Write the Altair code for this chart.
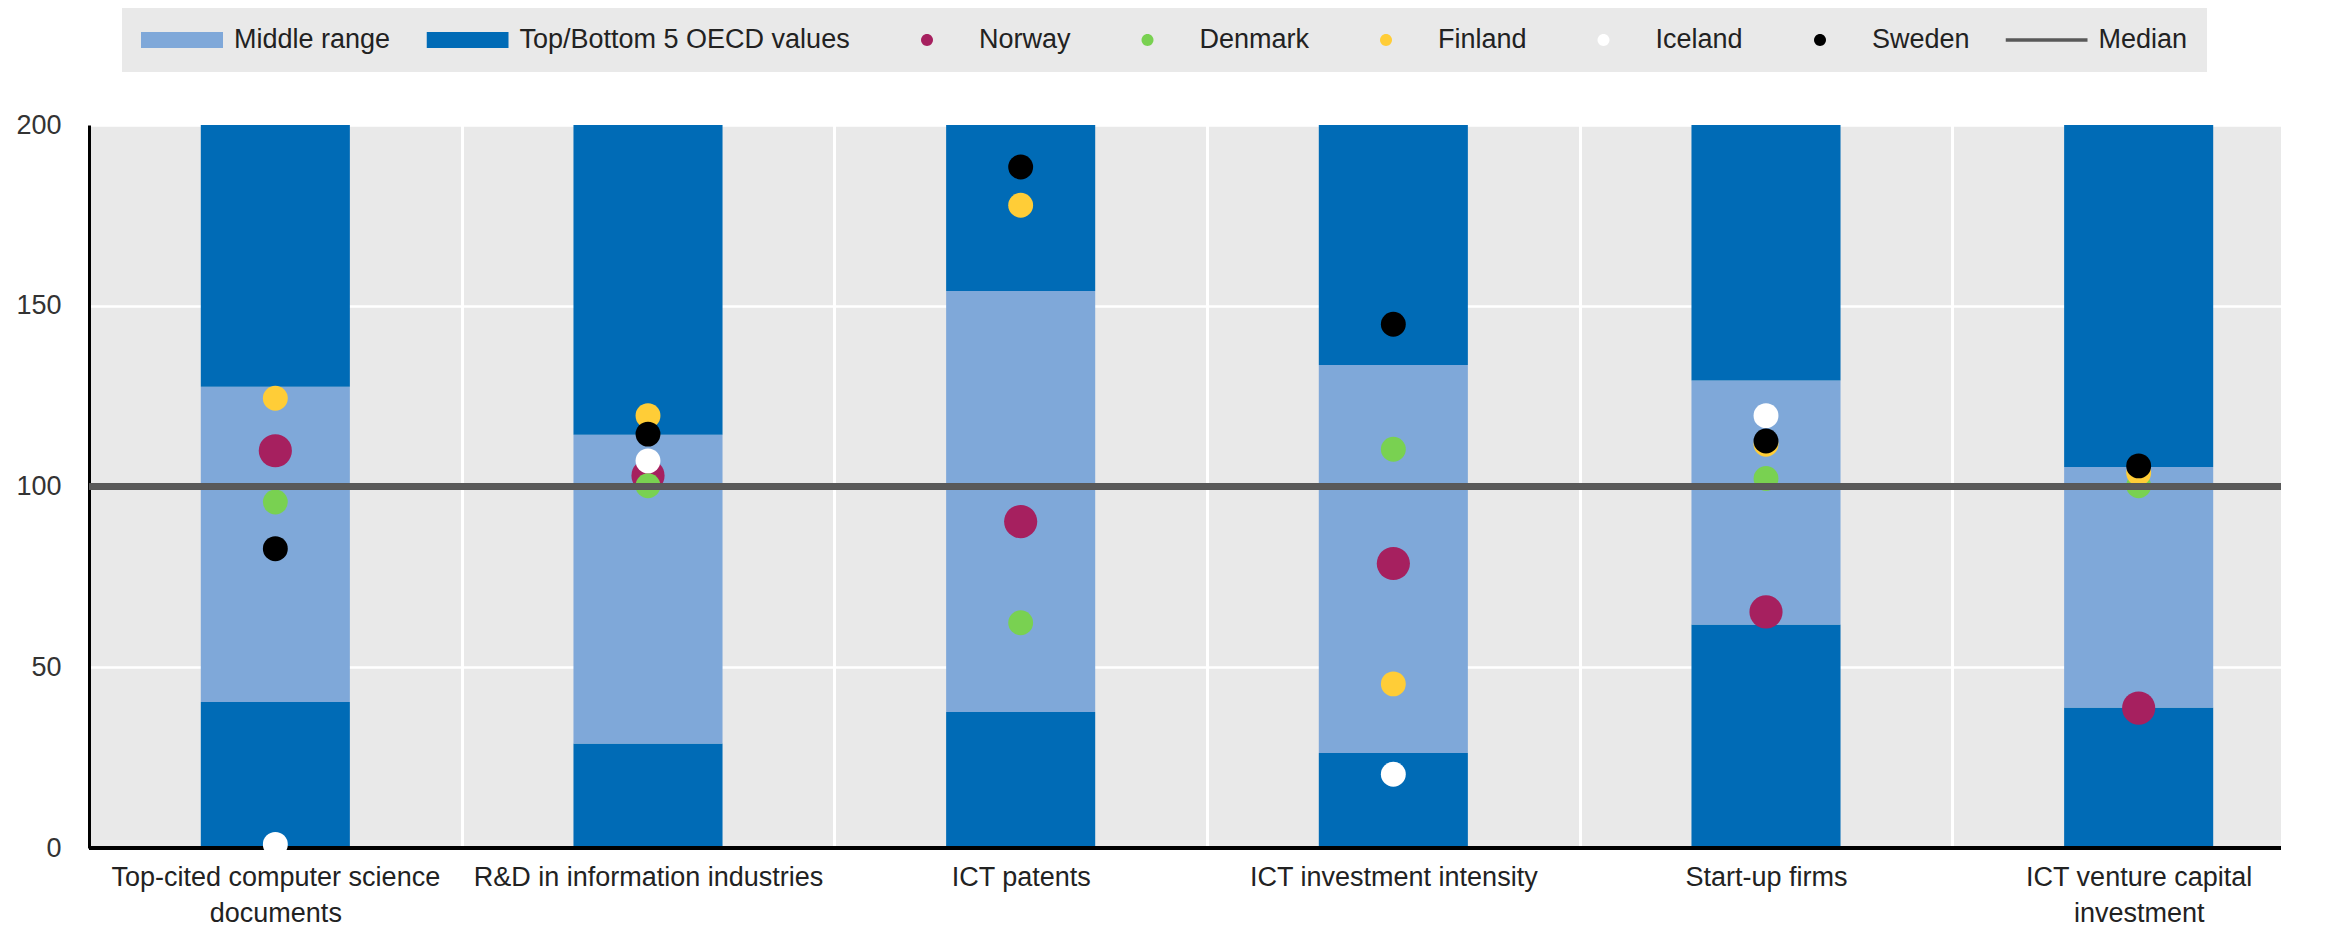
import altair as alt
import pandas as pd

# ---------------- data ----------------
CATEGORIES = [
    "Top-cited computer science documents",
    "R&D in information industries",
    "ICT patents",
    "ICT investment intensity",
    "Start-up firms",
    "ICT venture capital investment",
]
LABEL_LINES = {
    "Top-cited computer science documents": ["Top-cited computer science", "documents"],
    "ICT venture capital investment": ["ICT venture capital", "investment"],
}
# band limits (index, median = 100)
LOW = [40.4, 28.9, 37.6, 26.3, 61.8, 38.9]     # top of bottom-5 band
HIGH = [127.6, 114.3, 154.1, 133.6, 129.3, 105.4]  # top of middle range
TOP = [200, 200, 200, 200, 200, 200]

COUNTRIES = ["Norway", "Denmark", "Finland", "Iceland", "Sweden"]
NORWAY = [109.9, 103.0, 90.3, 78.7, 65.3, 38.7]
DENMARK = [95.7, 100.2, 62.3, 110.3, 102.2, 100.2]
FINLAND = [124.4, 119.6, 177.8, 45.4, 111.7, 103.7]
ICELAND = [1.0, 107.1, None, 20.4, 119.6, None]
SWEDEN = [82.8, 114.5, 188.4, 144.9, 112.6, 105.7]
MEDIAN = 100

SERIES = ["Middle range", "Top/Bottom 5 OECD values", "Norway", "Denmark",
          "Finland", "Iceland", "Sweden", "Median"]
COLORS = ["#7FA8D9", "#006BB6", "#A6205F", "#79D151", "#FFCD37",
          "#FFFFFF", "#000000", "#595959"]

# ---------------- tables ----------------
bar_rows = []
for c, lo, hi, top in zip(CATEGORIES, LOW, HIGH, TOP):
    bar_rows.append({"category": c, "y0": 0, "y1": lo, "series": "Top/Bottom 5 OECD values"})
    bar_rows.append({"category": c, "y0": lo, "y1": hi, "series": "Middle range"})
    bar_rows.append({"category": c, "y0": hi, "y1": top, "series": "Top/Bottom 5 OECD values"})
bars_df = pd.DataFrame(bar_rows)

point_rows = []
for name, vals in zip(COUNTRIES, [NORWAY, DENMARK, FINLAND, ICELAND, SWEDEN]):
    for c, v in zip(CATEGORIES, vals):
        if v is not None:
            point_rows.append({"category": c, "value": v, "series": name})
points_df = pd.DataFrame(point_rows)
norway_df = points_df[points_df.series == "Norway"]
others_df = points_df[points_df.series != "Norway"]

# ---------------- styling ----------------
FONT = "Liberation Sans"
FS = 27

label_expr = ""
for k, v in LABEL_LINES.items():
    label_expr += "datum.value === '%s' ? [%s] : " % (k, ", ".join("'%s'" % s for s in v))
label_expr += "datum.label"

X = alt.X(
    "category:N",
    sort=CATEGORIES,
    scale=alt.Scale(domain=CATEGORIES, range=[0, 2236], paddingInner=0, paddingOuter=0),
    axis=alt.Axis(
        title=None, grid=True, gridColor="white", gridWidth=3, tickBand="extent",
        domain=False, ticks=False, labelAngle=0, labelPadding=16,
        labelFont=FONT, labelFontSize=FS, labelColor="#222", labelLineHeight=36,
        labelLimit=1000, labelOverlap=False, labelExpr=label_expr,
    ),
)
YSCALE = alt.Scale(domain=[0, 200], nice=False)
YAXIS = alt.Axis(
    title=None, values=[0, 50, 100, 150, 200], grid=True, gridColor="white",
    gridWidth=2.5, domain=True, domainColor="black", domainWidth=3, ticks=False,
    labelPadding=28, labelFont=FONT, labelFontSize=FS, labelColor="#333",
)

# legend symbol shapes (unit box -1..1, scaled to 82 px by symbolSize)
RECT = "M-1,-0.195H1V0.195H-1Z"
LINE = "M-1,-0.04H1V0.04H-1Z"
DOT = "M-1,0M1,0M0.146,0A0.146,0.146,0,1,1,-0.146,0A0.146,0.146,0,1,1,0.146,0Z"
SHAPES = [RECT, RECT, DOT, DOT, DOT, DOT, DOT, LINE]

COLOR_SCALE = alt.Scale(domain=SERIES, range=COLORS)
SHAPE_SCALE = alt.Scale(domain=SERIES, range=SHAPES)
LEGEND = alt.Legend(
    title=None, orient="none", legendX=33, legendY=-117, direction="horizontal",
    columns=8, fillColor="#E9E9E9", padding=19, symbolSize=6724, clipHeight=26,
    columnPadding=35.5, labelOffset=11, labelFont=FONT, labelFontSize=FS,
    labelColor="#222", labelLimit=1000, symbolStrokeWidth=0, symbolOpacity=1,
)

# empty layer that carries the combined colour + shape legend
legend_layer = alt.Chart(points_df).transform_filter("false").mark_point(
    filled=True, opacity=1, strokeWidth=0
).encode(
    x=X,
    y=alt.Y("value:Q", scale=YSCALE, axis=YAXIS),
    color=alt.Color("series:N", scale=COLOR_SCALE, legend=LEGEND),
    shape=alt.Shape("series:N", scale=SHAPE_SCALE, legend=LEGEND),
)

bars = alt.Chart(bars_df).mark_bar(width=alt.RelativeBandSize(0.4), opacity=1).encode(
    x=X,
    y=alt.Y("y0:Q", scale=YSCALE, axis=YAXIS),
    y2="y1:Q",
    color=alt.Color("series:N", scale=COLOR_SCALE, legend=LEGEND),
)

baseline = alt.Chart(bars_df).mark_rule(color="black", strokeWidth=3).encode(
    y=alt.Y(datum=0, scale=YSCALE, axis=YAXIS)
)

norway = alt.Chart(norway_df).mark_point(filled=True, size=1100, opacity=1, strokeWidth=0).encode(
    x=X,
    y=alt.Y("value:Q", scale=YSCALE, axis=YAXIS),
    color=alt.Color("series:N", scale=COLOR_SCALE, legend=LEGEND),
)

others = alt.Chart(others_df).mark_point(filled=True, size=620, opacity=1, strokeWidth=0).encode(
    x=X,
    y=alt.Y("value:Q", scale=YSCALE, axis=YAXIS),
    color=alt.Color("series:N", scale=COLOR_SCALE, legend=LEGEND),
)

median = alt.Chart(bars_df).mark_rule(color="#595959", strokeWidth=5.5).encode(
    y=alt.Y(datum=MEDIAN, scale=YSCALE, axis=YAXIS)
)

chart = (
    alt.layer(legend_layer, bars, baseline, norway, others, median)
    .properties(width=2192, height=723,
                padding={"left": 7, "top": 0, "right": 0, "bottom": 0})
    .configure_view(fill="#E9E9E9", stroke=None)
)

chart.save("out.html", embed_options={"renderer": "svg", "actions": False})
